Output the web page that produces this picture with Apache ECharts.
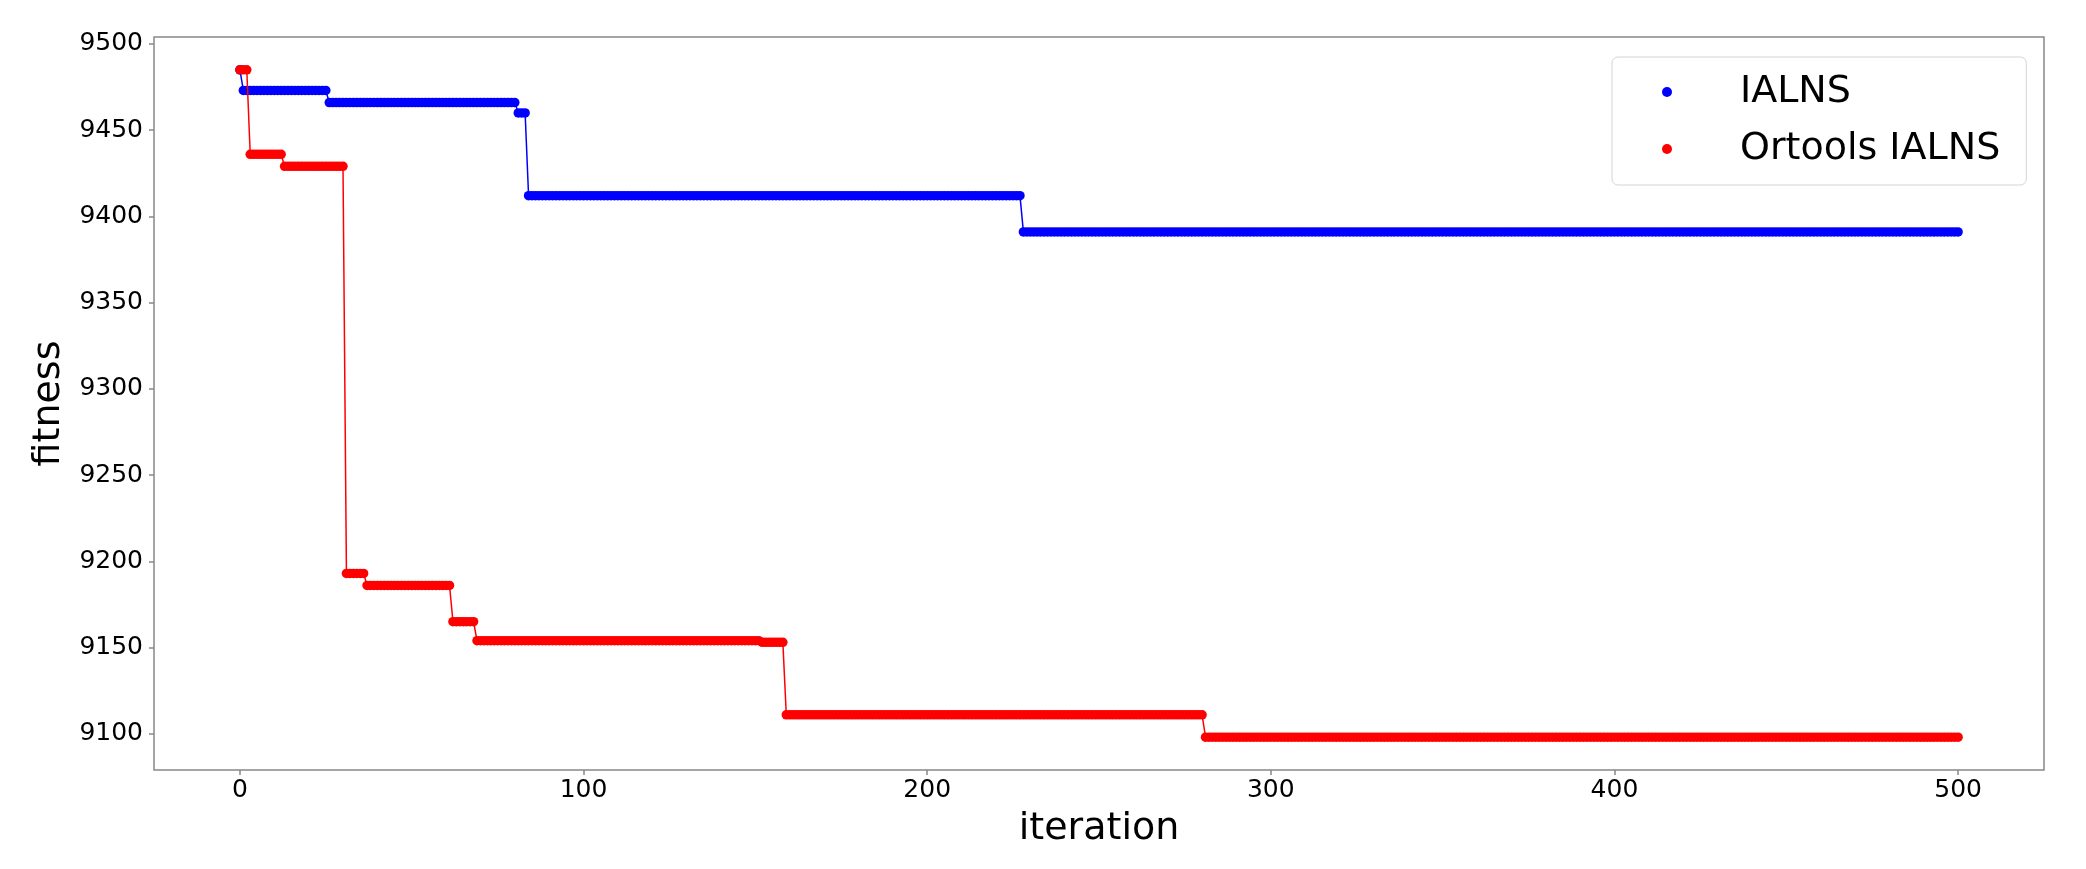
<!DOCTYPE html>
<html style="height: 100%">
<head>
    <meta charset="utf-8">
    <script type="text/javascript" src="https://cdn.jsdelivr.net/npm/echarts@6.0.0/dist/echarts.min.js"></script>
    <style type="text/css">
        body { margin: 0; background: #fff; }
        #container { width: 2086px; height: 869px; }
    </style>
</head>
<body>
<div id="container"></div>
<script type="text/javascript">
    // tick labels
    var xTicks = [0, 100, 200, 300, 400, 500];
    var yTicks = [9100, 9150, 9200, 9250, 9300, 9350, 9400, 9450, 9500];

    // best fitness per iteration, stored as runs: iteration where a level starts + its value
    var lastIteration = 500;
    var ialnsStart = [0, 1, 26, 81, 84, 228];
    var ialnsFitness = [9485, 9473, 9466, 9460, 9412, 9391];
    var ortoolsStart = [0, 3, 13, 31, 37, 62, 69, 152, 159, 281];
    var ortoolsFitness = [9485, 9436, 9429, 9193, 9186, 9165, 9154, 9153, 9111, 9098];

    function expandRuns(starts, values) {
        var out = [];
        var k = 0;
        for (var it = 0; it <= lastIteration; it++) {
            while (k + 1 < starts.length && starts[k + 1] <= it) k++;
            out.push([it, values[k]]);
        }
        return out;
    }

    var font = 'DejaVu Sans';
    var dom = document.getElementById('container');
    var myChart = echarts.init(dom, null, {renderer: 'canvas'});

    var option = {
        animation: false,
        backgroundColor: '#ffffff',
        grid: {
            left: 154,
            right: 42,
            top: 37,
            bottom: 99,
            show: true,
            borderColor: '#888888',
            borderWidth: 1.5
        },
        legend: {
            left: 1612,
            top: 57,
            orient: 'vertical',
            icon: 'circle',
            itemWidth: 10,
            itemHeight: 10,
            itemGap: 19,
            padding: [16, 26, 17, 50],
            backgroundColor: '#ffffff',
            borderColor: '#d4d4d4',
            borderWidth: 1,
            borderRadius: 6,
            textStyle: {
                fontFamily: font,
                fontSize: 38,
                color: '#000000',
                padding: [0, 0, 0, 63]
            },
            data: ['IALNS', 'Ortools IALNS']
        },
        xAxis: {
            type: 'value',
            min: -25,
            max: 525,
            name: 'iteration',
            nameLocation: 'middle',
            nameGap: 40,
            nameTextStyle: {fontFamily: font, fontSize: 38, color: '#000000'},
            splitLine: {show: false},
            axisLine: {show: false, onZero: false},
            axisTick: {
                show: true,
                length: 5,
                customValues: xTicks,
                lineStyle: {color: '#888888', width: 1.5}
            },
            axisLabel: {
                customValues: xTicks,
                margin: 8,
                fontFamily: font,
                fontSize: 25,
                color: '#000000',
                formatter: function (v) { return String(v); }
            }
        },
        yAxis: {
            type: 'value',
            min: 9079,
            max: 9504,
            name: 'fitness',
            nameLocation: 'middle',
            nameRotate: 90,
            nameGap: 75,
            nameTextStyle: {fontFamily: font, fontSize: 38, color: '#000000'},
            splitLine: {show: false},
            axisLine: {show: false, onZero: false},
            axisTick: {
                show: true,
                length: 5,
                customValues: yTicks,
                lineStyle: {color: '#888888', width: 1.5}
            },
            axisLabel: {
                customValues: yTicks,
                margin: 11,
                fontFamily: font,
                fontSize: 25,
                color: '#000000',
                formatter: function (v) { return String(v); }
            }
        },
        series: [
            {
                name: 'IALNS',
                type: 'line',
                data: expandRuns(ialnsStart, ialnsFitness),
                symbol: 'circle',
                symbolSize: 9.5,
                showAllSymbol: true,
                color: '#0000ff',
                lineStyle: {color: '#0000ff', width: 1.5},
                itemStyle: {color: '#0000ff'},
                z: 2
            },
            {
                name: 'Ortools IALNS',
                type: 'line',
                data: expandRuns(ortoolsStart, ortoolsFitness),
                symbol: 'circle',
                symbolSize: 9.5,
                showAllSymbol: true,
                color: '#ff0000',
                lineStyle: {color: '#ff0000', width: 1.5},
                itemStyle: {color: '#ff0000'},
                z: 3
            }
        ]
    };
    myChart.setOption(option, true);
</script>
</body>
</html>
